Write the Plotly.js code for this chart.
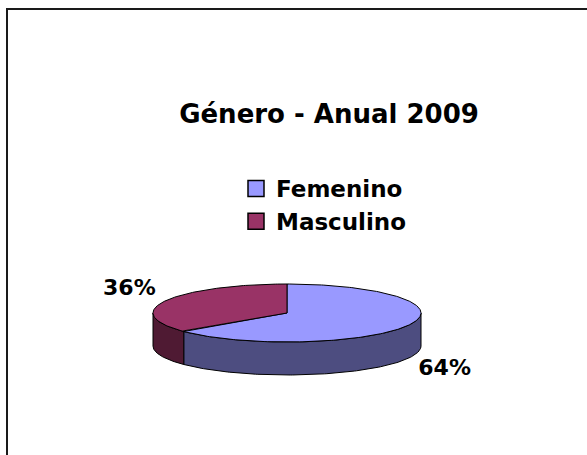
<!DOCTYPE html>
<html><head><meta charset="utf-8">
<script src="https://cdn.plot.ly/plotly-3.0.1.min.js"></script>
<style>html,body{margin:0;padding:0;background:#fff;overflow:hidden;}</style>
</head><body><div id="chart" style="width:587px;height:455px;"></div>
<script>
// ---- data ----
const categories = ['Femenino', 'Masculino'];
const values = [64, 36];
const valueLabels = ['64%', '36%'];
const titleText = 'Género - Anual 2009';

// ---- style ----
const topColors = ['#9999FF', '#993366'];
const sideColors = ['#4D4D80', '#4F1A33'];
const FONT = 'DejaVu Sans, Arial, sans-serif';

// ---- 3D pie geometry (in axis pixel units) ----
const cx = 287, cy = 313, rx = 134, ry = 29, depth = 33;
const total = values.reduce((a, b) => a + b, 0);

function pt(angDeg, dy) {
  const a = angDeg * Math.PI / 180;
  return [cx + rx * Math.cos(a), cy - ry * Math.sin(a) + (dy || 0)];
}
function arc(a0, a1, dy) {
  const pts = [];
  const n = Math.max(2, Math.ceil(Math.abs(a1 - a0)));
  for (let i = 0; i <= n; i++) pts.push(pt(a0 + (a1 - a0) * i / n, dy));
  return pts;
}

const sideTraces = [], topTraces = [], lbl = {x: [], y: [], t: []};
let start = 90;
values.forEach((v, i) => {
  const a0 = start, a1 = start - v / total * 360; // clockwise
  start = a1;
  // top face
  const tp = [[cx, cy]].concat(arc(a0, a1, 0)).concat([[cx, cy]]);
  topTraces.push({
    type: 'scatter', mode: 'lines', fill: 'toself',
    x: tp.map(p => p[0]), y: tp.map(p => p[1]),
    fillcolor: topColors[i], line: {color: '#000', width: 1},
    showlegend: false, hoverinfo: 'skip'
  });
  // front side faces: visible angles in [-180,0] + k*360
  for (let k = -2; k <= 1; k++) {
    const lo = -180 + k * 360, hi = 0 + k * 360;
    const s0 = Math.min(a0, hi), s1 = Math.max(a1, lo);
    if (s0 > s1) {
      const sp = arc(s0, s1, 0).concat(arc(s1, s0, depth));
      sp.push(sp[0]);
      sideTraces.push({
        type: 'scatter', mode: 'lines', fill: 'toself',
        x: sp.map(p => p[0]), y: sp.map(p => p[1]),
        fillcolor: sideColors[i], line: {color: '#000', width: 1},
        showlegend: false, hoverinfo: 'skip'
      });
    }
  }
  // label
  const mid = (a0 + a1) / 2, m = mid * Math.PI / 180;
  const front = Math.sin(m) < 0 ? depth : 0;
  lbl.x.push(cx + rx * 1.3 * Math.cos(m));
  lbl.y.push(cy - ry * 1.9 * Math.sin(m) + front);
  lbl.t.push(valueLabels[i]);
});

const labelTrace = {
  type: 'scatter', mode: 'text', x: lbl.x, y: lbl.y, text: lbl.t,
  textposition: 'middle center', cliponaxis: false,
  textfont: {family: FONT, size: 22, color: '#000', weight: 'bold'},
  showlegend: false, hoverinfo: 'skip'
};

const legendTraces = categories.map((c, i) => ({
  type: 'scatter', mode: 'markers', x: [-1000], y: [-1000], name: c,
  legendgroup: c,
  marker: {symbol: 'square', size: 18, color: topColors[i], line: {color: '#000', width: 1.5}},
  hoverinfo: 'skip'
}));

const data = sideTraces.concat(topTraces).concat([labelTrace]).concat(legendTraces);

const layout = {
  width: 587, height: 455, autosize: false,
  margin: {l: 0, r: 0, t: 0, b: 0, pad: 0},
  paper_bgcolor: '#fff', plot_bgcolor: '#fff',
  xaxis: {range: [0, 587], visible: false, fixedrange: true},
  yaxis: {range: [455, 0], visible: false, fixedrange: true},
  title: {
    text: titleText, x: 329 / 587, xanchor: 'center', xref: 'paper',
    y: 1 - 114 / 455, yanchor: 'middle', yref: 'container',
    font: {family: FONT, size: 26, color: '#000', weight: 'bold'}
  },
  showlegend: true,
  legend: {
    x: 236 / 587, xanchor: 'left', y: 1 - 167 / 455, yanchor: 'top',
    bgcolor: 'rgba(0,0,0,0)', borderwidth: 0, tracegroupgap: 0,
    font: {family: FONT, size: 23, color: '#000', weight: 'bold'}
  },
  shapes: [{
    type: 'rect', xref: 'paper', yref: 'paper',
    x0: 7 / 587, x1: 1.02, y0: -0.02, y1: 1 - 9 / 455,
    line: {color: '#1a1a1a', width: 2}, fillcolor: 'rgba(0,0,0,0)'
  }]
};

Plotly.newPlot('chart', data, layout, {displayModeBar: false, staticPlot: true});
</script>
</body></html>
